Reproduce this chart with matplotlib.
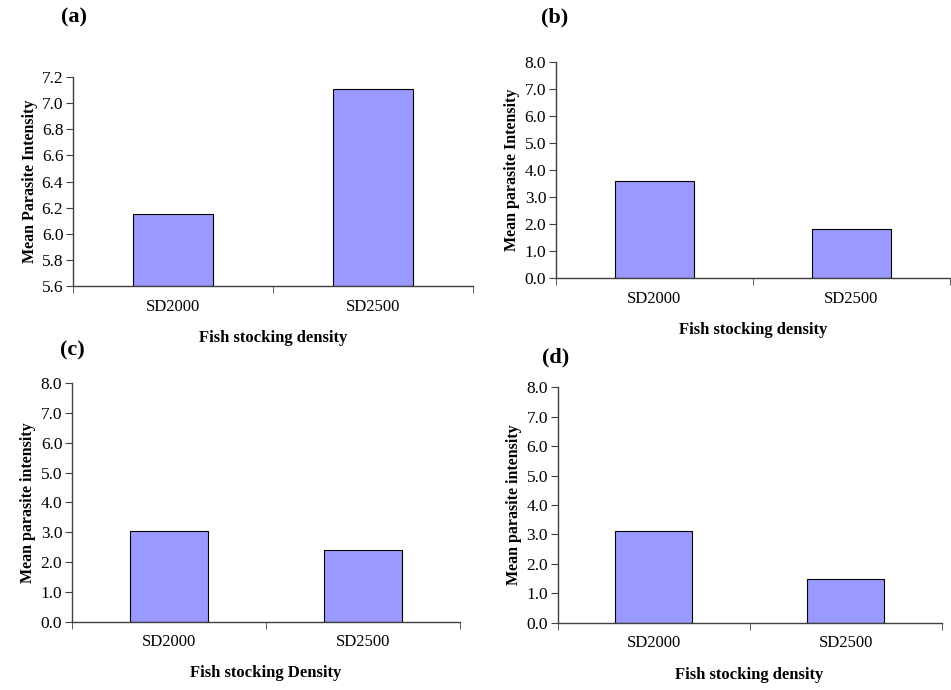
import matplotlib
matplotlib.use("Agg")
import matplotlib.pyplot as plt

plt.rcParams["font.family"] = ["Liberation Serif", "DejaVu Serif"]

categories = ["SD2000", "SD2500"]

vals_a = [6.15, 7.11]
vals_b = [3.6, 1.8]
vals_c = [3.05, 2.4]
vals_d = [3.1, 1.5]

panels = [
    # label, values, ylim, yticks step, ylabel, xlabel, axes rect, label pos (px)
    ("(a)", vals_a, (5.6, 7.2), 0.2, "Mean Parasite Intensity", "Fish stocking density",
     [0.0768, 0.5855, 0.4206, 0.3029], (74, 17)),
    ("(b)", vals_b, (0.0, 8.0), 1.0, "Mean parasite Intensity", "Fish stocking density",
     [0.5846, 0.5971, 0.4143, 0.3130], (555, 17)),
    ("(c)", vals_c, (0.0, 8.0), 1.0, "Mean parasite intensity", "Fish stocking Density",
     [0.0757, 0.0990, 0.4080, 0.3455], (72, 350)),
    ("(d)", vals_d, (0.0, 8.0), 1.0, "Mean parasite intensity", "Fish stocking density",
     [0.5864, 0.0975, 0.4038, 0.3412], (556, 357)),
]

W, H = 951, 690
fig = plt.figure(figsize=(W / 100, H / 100), dpi=100)

for tag, vals, ylim, step, ylab, xlab, rect, lpos in panels:
    ax = fig.add_axes(rect)
    xs = [0.5, 1.5]
    ax.bar(xs, [v - ylim[0] for v in vals], bottom=ylim[0], width=0.4,
           color="#9999FF", edgecolor="black", linewidth=0.8)
    ax.set_xlim(0, 2)
    ax.set_ylim(*ylim)
    n = int(round((ylim[1] - ylim[0]) / step))
    yt = [ylim[0] + i * step for i in range(n + 1)]
    ax.set_yticks(yt)
    ax.set_yticklabels([f"{t:.1f}" for t in yt])
    ax.set_xticks(xs)
    ax.set_xticklabels(categories)
    ax.set_xticks([0, 1, 2], minor=True)
    ax.tick_params(axis="x", which="major", length=0, pad=9, labelsize=12)
    ax.tick_params(axis="x", which="minor", length=5, direction="out", color="#404040")
    ax.tick_params(axis="y", length=5, direction="out", pad=2, labelsize=12.5, color="#404040")
    for s in ("top", "right"):
        ax.spines[s].set_visible(False)
    for s in ("left", "bottom"):
        ax.spines[s].set_color("#404040")
        ax.spines[s].set_linewidth(1.0)
    ax.set_ylabel(ylab, fontsize=11.5, fontweight="bold", labelpad=3)
    ax.set_xlabel(xlab, fontsize=12, fontweight="bold", labelpad=11)
    fig.text(lpos[0] / W, 1 - lpos[1] / H, tag, fontsize=16, fontweight="bold",
             ha="center", va="center")

fig.savefig("out.png", dpi=100)
